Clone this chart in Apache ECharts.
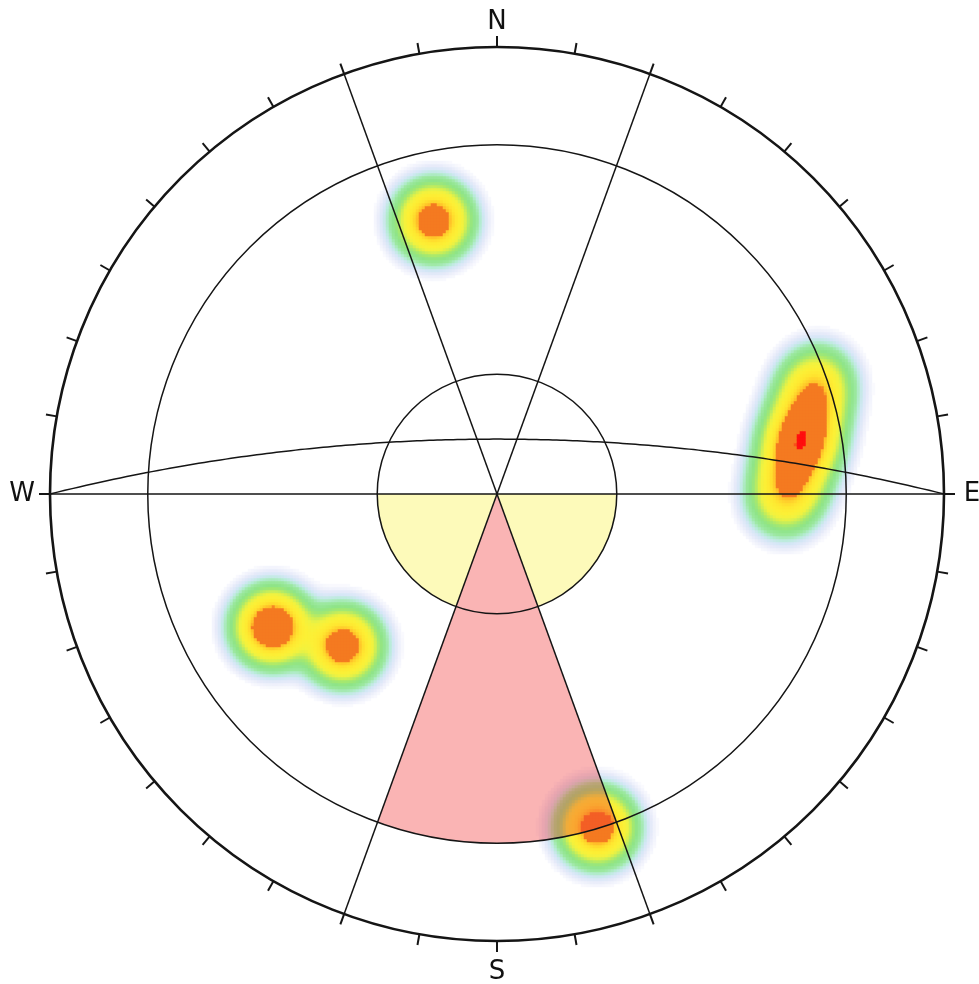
<!DOCTYPE html>
<html>
<head>
<meta charset="utf-8">
<script src="https://cdn.jsdelivr.net/npm/echarts@6/dist/echarts.min.js"></script>
<style>
  html, body { margin: 0; padding: 0; background: #ffffff; }
  #chart { width: 979px; height: 984px; }
</style>
</head>
<body>
<div id="chart"></div>
<script>
// ---- Pole measurements (lower hemisphere, degrees) ----
const poleTrend = [347, 239.4, 225.4, 163.2,
  92.0, 90.1, 88.2, 86.3, 84.4, 82.7, 80.9, 79.2, 77.6, 76.0, 74.4, 72.9, 71.4, 70.0,
  80.0];
const polePlunge = [25.7, 29.5, 38.4, 14.2,
  24.6, 24.1, 23.6, 23.0, 22.4, 21.8, 21.1, 20.3, 19.5, 18.7, 17.8, 17.0, 16.1, 15.1,
  20.7];
const poleCount = [5, 6, 5, 5,
  1, 1, 1, 1, 1, 1, 1, 1, 1, 1, 1, 1, 1, 1,
  2];

// ---- Reference geometry ----
const smallCirclePlunges = [60, 14];          // cones about the vertical axis
const diameterAzimuths = [90, 20, 160];        // straight lines across the net
const planeDipDir = [0];                       // great circles
const planeDip = [76];
// filled zones: azimuth range and outer plunge limit
const zoneFromAz = [160, 90, 200];
const zoneToAz = [200, 160, 270];
const zonePlunge = [14, 60, 60];
const zoneColor = ['rgba(242,48,48,0.36)', 'rgba(250,243,90,0.42)', 'rgba(250,243,90,0.42)'];
// compass labels
const compassLabels = ['N', 'E', 'S', 'W'];
const compassAz = [0, 90, 180, 270];
const tickStep = 10;

// density contour levels (pole density) and their colours
const levelValues = [0.05, 0.12, 0.2, 0.3, 0.45, 0.7, 1.0, 1.3, 1.6, 2.1, 2.8, 3.25, 3.59, 3.6, 6.69, 6.7, 8.0];
const levelColors = ['#fafafe', '#e6eaf9', '#d4e6f6', '#b8ecd8', '#9ce8a0', '#8ee488', '#a4e870',
  '#cfee54', '#f0f240', '#fcf036', '#ffe630', '#ffd22c', '#ffbc28', '#f47a20', '#f47a20', '#ff1010', '#ff0000'];

const DEG = Math.PI / 180;
// equal-angle (stereographic) projection of a line to unit-circle x/y
function proj(trend, plunge) {
  const r = Math.tan((90 - plunge) / 2 * DEG);
  return [r * Math.sin(trend * DEG), r * Math.cos(trend * DEG)];
}
function radiusOf(plunge) { return Math.tan((90 - plunge) / 2 * DEG); }

// ---- Gaussian pole density on a regular grid ----
const CELLS = 298;
const SIGMA = 0.0447;
const polesXY = poleTrend.map((t, i) => proj(t, polePlunge[i]));
const cellIdx = [];
for (let i = 0; i < CELLS; i++) cellIdx.push(i);
const densityData = [];
for (let i = 0; i < CELLS; i++) {
  const x = -1 + (i + 0.5) * 2 / CELLS;
  for (let j = 0; j < CELLS; j++) {
    const y = -1 + (j + 0.5) * 2 / CELLS;
    if (x * x + y * y > 1) continue;
    let d = 0;
    for (let k = 0; k < polesXY.length; k++) {
      const dx = x - polesXY[k][0], dy = y - polesXY[k][1];
      d += poleCount[k] * Math.exp(-(dx * dx + dy * dy) / (2 * SIGMA * SIGMA));
    }
    if (d >= levelValues[0]) densityData.push([i, j, +d.toFixed(3)]);
  }
}

// colour ramp for visualMap, sampled evenly between 0 and the top level
function hexToRgb(h) { return [1, 3, 5].map(p => parseInt(h.substr(p, 2), 16)); }
function rampAt(v) {
  if (v <= levelValues[0]) return levelColors[0];
  for (let i = 1; i < levelValues.length; i++) {
    if (v <= levelValues[i]) {
      const a = hexToRgb(levelColors[i - 1]), b = hexToRgb(levelColors[i]);
      const f = (v - levelValues[i - 1]) / (levelValues[i] - levelValues[i - 1]);
      return 'rgb(' + a.map((c, n) => Math.round(c + (b[n] - c) * f)).join(',') + ')';
    }
  }
  return levelColors[levelColors.length - 1];
}
const RAMP_MAX = levelValues[levelValues.length - 1];
const rampColors = [];
for (let v = 0; v <= RAMP_MAX + 1e-9; v += 0.01) rampColors.push(rampAt(v));

const LINE = '#151515';
const chart = echarts.init(document.getElementById('chart'), null, { renderer: 'canvas' });

const gridRect = { left: 50, top: 47, width: 894, height: 894 };
const labelGap = { N: 25, E: 28, S: 31, W: 28 };

chart.setOption({
  backgroundColor: '#ffffff',
  animation: false,
  grid: [Object.assign({}, gridRect), Object.assign({}, gridRect)],
  xAxis: [
    { type: 'value', min: -1, max: 1, show: false, gridIndex: 0 },
    { type: 'category', data: cellIdx, show: false, gridIndex: 1 }
  ],
  yAxis: [
    { type: 'value', min: -1, max: 1, show: false, gridIndex: 0 },
    { type: 'category', data: cellIdx, show: false, gridIndex: 1 }
  ],
  visualMap: {
    type: 'continuous', show: false, seriesIndex: 0, dimension: 2,
    min: 0, max: RAMP_MAX, inRange: { color: rampColors }
  },
  series: [
    // pole density contours
    {
      type: 'heatmap', xAxisIndex: 1, yAxisIndex: 1, data: densityData, z: 1,
      itemStyle: { borderWidth: 0 }, emphasis: { disabled: true }
    },
    // filled zones
    {
      type: 'custom', xAxisIndex: 0, yAxisIndex: 0, z: 2, clip: false,
      data: zoneFromAz.map((a, i) => [0, 0, i]),
      renderItem: function (params, api) {
        const i = params.dataIndex;
        const r = radiusOf(zonePlunge[i]);
        const pts = [api.coord([0, 0])];
        for (let a = zoneFromAz[i]; a <= zoneToAz[i] + 1e-9; a += 1) {
          pts.push(api.coord([r * Math.sin(a * DEG), r * Math.cos(a * DEG)]));
        }
        return { type: 'polygon', shape: { points: pts }, style: { fill: zoneColor[i], stroke: null } };
      }
    },
    // small circles
    {
      type: 'custom', xAxisIndex: 0, yAxisIndex: 0, z: 3, clip: false,
      data: smallCirclePlunges.map((p, i) => [0, 0, i]),
      renderItem: function (params, api) {
        const r = radiusOf(smallCirclePlunges[params.dataIndex]);
        const c = api.coord([0, 0]);
        return { type: 'circle', shape: { cx: c[0], cy: c[1], r: api.size([r, 0])[0] },
          style: { fill: null, stroke: LINE, lineWidth: 1.5 } };
      }
    },
    // diameters
    {
      type: 'custom', xAxisIndex: 0, yAxisIndex: 0, z: 3, clip: false,
      data: diameterAzimuths.map((a, i) => [0, 0, i]),
      renderItem: function (params, api) {
        const a = diameterAzimuths[params.dataIndex];
        const p1 = api.coord(proj(a, 0)), p2 = api.coord(proj(a + 180, 0));
        return { type: 'line', shape: { x1: p1[0], y1: p1[1], x2: p2[0], y2: p2[1] },
          style: { stroke: LINE, lineWidth: 1.5 } };
      }
    },
    // great circles
    {
      type: 'custom', xAxisIndex: 0, yAxisIndex: 0, z: 3, clip: false,
      data: planeDipDir.map((a, i) => [0, 0, i]),
      renderItem: function (params, api) {
        const dd = planeDipDir[params.dataIndex] * DEG, dip = planeDip[params.dataIndex] * DEG;
        const s = [Math.sin(dd - Math.PI / 2), Math.cos(dd - Math.PI / 2), 0];
        const d = [Math.cos(dip) * Math.sin(dd), Math.cos(dip) * Math.cos(dd), Math.sin(dip)];
        const pts = [];
        for (let t = 0; t <= 180; t += 1) {
          const c = Math.cos(t * DEG), sn = Math.sin(t * DEG);
          const e = c * s[0] + sn * d[0], n = c * s[1] + sn * d[1], dn = c * s[2] + sn * d[2];
          const trend = Math.atan2(e, n) / DEG;
          const plunge = Math.asin(Math.min(1, Math.max(-1, dn))) / DEG;
          pts.push(api.coord(proj(trend, plunge)));
        }
        return { type: 'polyline', shape: { points: pts },
          style: { fill: null, stroke: LINE, lineWidth: 1.5 } };
      }
    },
    // primitive circle, azimuth ticks and compass labels
    {
      type: 'custom', xAxisIndex: 0, yAxisIndex: 0, z: 4, clip: false,
      data: [[0, 0, 0]],
      renderItem: function (params, api) {
        const c = api.coord([0, 0]);
        const R = api.size([1, 0])[0];
        const children = [{ type: 'circle', shape: { cx: c[0], cy: c[1], r: R },
          style: { fill: null, stroke: LINE, lineWidth: 2.6 } }];
        for (let a = 0; a < 360; a += tickStep) {
          const sx = Math.sin(a * DEG), sy = -Math.cos(a * DEG);
          children.push({ type: 'line',
            shape: { x1: c[0] + sx * R, y1: c[1] + sy * R, x2: c[0] + sx * (R + 11), y2: c[1] + sy * (R + 11) },
            style: { stroke: LINE, lineWidth: 2 } });
        }
        compassLabels.forEach(function (t, i) {
          const a = compassAz[i] * DEG;
          const off = R + labelGap[t];
          children.push({ type: 'text',
            style: { text: t, x: c[0] + Math.sin(a) * off, y: c[1] - Math.cos(a) * off,
              align: 'center', verticalAlign: 'middle', fill: '#111111',
              font: '26px "DejaVu Sans", sans-serif' } });
        });
        return { type: 'group', children: children };
      }
    }
  ]
});
</script>
</body>
</html>
